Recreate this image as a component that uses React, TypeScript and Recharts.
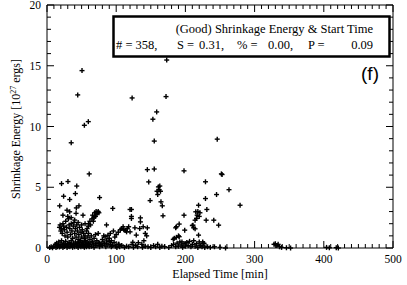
import React from 'react';
import { ScatterChart, Scatter, XAxis, YAxis, ReferenceArea } from 'recharts';

// chart size and plot margins (plot box: x 47..393, y 5..248)
const W = 407;
const H = 285;
const M = { top: 5, right: 14, bottom: 36, left: 46 };
const PLOT_TOP = 5;
const PLOT_RIGHT = 393;
const SERIF = '"Liberation Serif", "DejaVu Serif", serif';

const xTicks = Array.from({ length: 51 }, (_, i) => i * 10);
const yTicks = Array.from({ length: 21 }, (_, i) => i);

// events near the floor, left part
const floorLeft: [number, number][] = [
  [4, 0.05], [6, 0.1], [8, 0.02], [10, 0.15], [12, 0.3], [13, 0.05], [14, 0.4], [15, 0.1],
  [16, 0.2], [17, 0.5], [18, 0.08], [19, 0.3], [20, 0.15], [21, 0.6], [22, 0.25], [23, 0.05],
  [24, 0.4], [25, 0.12], [26, 0.3], [27, 0.55], [28, 0.2], [29, 0.05], [30, 0.35], [31, 0.15],
  [32, 0.45], [33, 0.1], [34, 0.3], [35, 0.6], [36, 0.2], [37, 0.05], [38, 0.4], [39, 0.25],
  [40, 0.1], [41, 0.5], [42, 0.3], [43, 0.15], [44, 0.35], [45, 0.05], [46, 0.45], [47, 0.2],
  [48, 0.6], [49, 0.1], [50, 0.3], [51, 0.4], [52, 0.15], [53, 0.25], [54, 0.05], [55, 0.5],
  [56, 0.3], [57, 0.1], [58, 0.2], [60, 0.4], [61, 0.1], [62, 0.3], [64, 0.15], [65, 0.5],
  [67, 0.25], [68, 0.05], [70, 0.35], [72, 0.2], [74, 0.4], [76, 0.1], [78, 0.3], [80, 0.2],
  [81, 0.5], [83, 0.35], [85, 0.1], [86, 0.4], [88, 0.25], [90, 0.55], [92, 0.3], [93, 0.1],
  [95, 0.2], [97, 0.45], [99, 0.15], [101, 0.05], [103, 0.3], [105, 0.1], [108, 0.2], [112, 0.05],
  [115, 0.15], [118, 0.1], [123, 0.3], [125, 0.05], [128, 0.2], [131, 0.1],
];

// events near the floor, middle and right parts
const floorRight: [number, number][] = [
  [138, 0.05], [142, 0.15], [146, 0.1], [150, 0.05], [154, 0.2], [157, 0.1], [160, 0.3],
  [163, 0.05], [166, 0.15], [170, 0.1], [176, 0.05], [180, 0.2], [183, 0.3], [186, 0.1],
  [188, 0.4], [190, 0.15], [192, 0.5], [194, 0.25], [196, 0.05], [198, 0.35], [200, 0.15],
  [202, 0.45], [204, 0.2], [206, 0.55], [208, 0.1], [210, 0.3], [212, 0.6], [214, 0.15],
  [216, 0.35], [218, 0.05], [220, 0.5], [222, 0.2], [224, 0.1], [226, 0.38], [228, 0.05],
  [232, 0.1], [236, 0.05], [242, 0.1], [250, 0.05], [258, 0.0],
  [328, 0.3], [330, 0.35], [332, 0.2], [334, 0.3], [336, 0.1], [339, 0.05], [346, 0.02],
  [352, 0.0], [404, 0.05], [408, 0.02], [418, 0.03], [421, 0.0],
];

// dense cluster 15..100 min
const clusterLeft: [number, number][] = [
  [18, 1.7], [19, 1.9], [20, 1.4], [21, 1.6], [22, 1.2], [23, 2.0], [24, 1.8], [25, 1.5],
  [26, 1.0], [27, 2.2], [28, 1.7], [29, 1.3], [30, 0.9], [31, 2.4], [32, 1.9], [33, 1.6],
  [34, 1.1], [35, 2.0], [36, 1.4], [37, 0.8], [38, 1.8], [39, 2.1], [40, 1.2], [41, 1.6],
  [42, 0.9], [43, 1.9], [44, 1.4], [45, 0.7], [46, 1.1], [47, 1.7], [48, 0.6], [49, 1.3],
  [50, 0.9], [51, 1.5], [52, 0.5], [53, 1.2], [54, 0.8], [55, 1.0], [56, 0.6], [57, 1.4],
  [58, 0.4], [59, 0.9], [60, 1.2], [62, 0.7], [64, 1.0], [66, 0.5], [68, 0.8], [70, 1.1],
  [72, 0.6], [74, 1.2], [76, 0.4],
  [30, 2.6], [35, 2.5], [23, 2.7], [40, 2.3], [45, 2.1], [50, 1.9], [55, 2.0], [60, 1.8],
  [52, 2.7], [42, 2.85], [28.9, 3.11], [32.8, 2.98], [42.4, 3.3], [46.2, 3.47], [18.3, 3.47],
  [58, 1.6], [60, 2.0], [62, 2.2], [63, 1.9], [65, 2.4], [66, 2.7], [67, 2.2], [68, 2.5],
  [69, 2.9], [70, 2.6], [71, 3.0], [72, 2.8], [73, 2.9], [74, 3.0], [75, 2.9],
  [80, 0.7], [82, 1.0], [84, 0.93], [86, 0.65], [88, 1.05], [90, 0.8], [91.5, 1.2], [93, 0.6],
  [96, 1.4], [98, 0.9], [100, 1.1], [86, 1.9],
];

// cluster 100..170 min
const clusterMid: [number, number][] = [
  [103, 1.3], [104, 0.3], [106, 1.5], [108, 1.6], [110, 1.75], [111, 1.5], [113, 1.45],
  [115, 1.33], [116, 1.6], [118, 1.75], [120, 1.33], [120, 3.17], [122, 2.43], [122, 2.6],
  [122, 3.17], [124, 0.47], [127, 1.66], [129, 1.06], [132, 0.44], [134, 1.6], [135, 2.15],
  [135, 2.48], [137, 0.3], [139, 1.75], [140, 0.6], [142, 1.2], [144, 1.0], [145, 1.66],
  [149, 3.9], [159, 4.67], [161, 5.03], [163, 5.1], [164, 4.67], [164.7, 3.8], [166.6, 3.47],
  [167.6, 2.65], [160, 4.4], [162, 4.8],
];

// cluster 180..280 min
const clusterRight: [number, number][] = [
  [182.5, 0.71], [184, 0.8], [186, 1.66], [187, 1.75], [187, 0.88], [190, 1.0], [191, 1.97],
  [191, 0.93], [195, 0.5], [198, 2.7], [199, 1.47], [210, 1.85], [211, 1.88], [212, 1.66],
  [214, 1.58], [214, 2.29], [215, 2.98], [216, 2.43], [217, 2.7], [218, 3.0], [219, 3.52],
  [219, 1.06], [220, 2.6], [221, 2.9], [225, 0.5], [227, 0.38], [229, 4.07], [230, 2.29],
  [231, 3.17], [241, 2.29], [245, 4.4], [248, 1.88], [263, 4.8], [279, 3.52],
];

// isolated high-energy events
const highEvents: [number, number][] = [
  [21, 5.3], [30.3, 5.47], [43, 5.1], [61, 6.1], [24, 4.26], [32.8, 3.99], [41, 4.48],
  [76, 4.15], [95, 3.26], [35, 8.66], [50.6, 14.6], [44.4, 12.6], [54, 10.1], [59.7, 10.4],
  [123, 12.35], [145, 6.45], [147, 5.44], [155, 6.5], [155, 8.8], [153, 10.6], [158.5, 11.2],
  [172, 12.46], [173, 15.47], [198, 6.35], [229, 5.45], [246, 8.96], [252, 6.1], [253, 6.05],
];

const events = [...floorLeft, ...floorRight, ...clusterLeft, ...clusterMid, ...clusterRight, ...highEvents]
  .map(([x, y]) => ({ x, y }));

const Plus = (props: any) => {
  const { cx, cy } = props;
  if (cx == null || cy == null) return null;
  return (
    <g>
      <line x1={cx - 2.5} x2={cx + 2.5} y1={cy} y2={cy} stroke="#000" strokeWidth={1.4} />
      <line x1={cx} x2={cx} y1={cy - 2.5} y2={cy + 2.5} stroke="#000" strokeWidth={1.4} />
    </g>
  );
};

// IDL style ticks: pointing inward, mirrored on the top edge
const XTick = (props: any) => {
  const { x, y, payload } = props;
  const v = payload.value;
  const major = v % 100 === 0;
  const len = major ? 7 : 4;
  return (
    <g>
      <line x1={x} x2={x} y1={y} y2={y - len} stroke="#000" />
      <line x1={x} x2={x} y1={PLOT_TOP} y2={PLOT_TOP + len} stroke="#000" />
      {major && (
        <text x={x} y={y + 15} textAnchor="middle" fontFamily={SERIF} fontSize={11.5} fill="#000">
          {v}
        </text>
      )}
    </g>
  );
};

const YTick = (props: any) => {
  const { x, y, payload } = props;
  const v = payload.value;
  const major = v % 5 === 0;
  const len = major ? 7 : 4;
  return (
    <g>
      <line x1={x} x2={x + len} y1={y} y2={y} stroke="#000" />
      <line x1={PLOT_RIGHT} x2={PLOT_RIGHT - len} y1={y} y2={y} stroke="#000" />
      {major && (
        <text x={x - 6} y={y + 4} textAnchor="end" fontFamily={SERIF} fontSize={11.5} fill="#000">
          {v}
        </text>
      )}
    </g>
  );
};

export default function App() {
  return (
    <div style={{ position: 'absolute', left: 0, top: 0, width: W, height: H, background: '#fff' }}>
      <ScatterChart width={W} height={H} margin={M}>
        <XAxis
          type="number"
          dataKey="x"
          domain={[0, 500]}
          ticks={xTicks}
          interval={0}
          height={1}
          tickSize={0}
          tickMargin={0}
          axisLine={false}
          tickLine={false}
          tick={<XTick />}
        />
        <YAxis
          type="number"
          dataKey="y"
          domain={[0, 20]}
          ticks={yTicks}
          interval={0}
          width={1}
          tickSize={0}
          tickMargin={0}
          axisLine={false}
          tickLine={false}
          tick={<YTick />}
        />
        <ReferenceArea x1={0} x2={500} y1={0} y2={20} fill="none" stroke="#000" strokeWidth={1} />
        <Scatter data={events} shape={<Plus />} isAnimationActive={false} />
      </ScatterChart>
      <svg
        width={W}
        height={H}
        style={{ position: 'absolute', left: 0, top: 0, pointerEvents: 'none' }}
      >
        <text
          transform="translate(20, 129) rotate(-90)"
          textAnchor="middle"
          fontFamily={SERIF}
          fontSize={12}
          fill="#000"
        >
          Shrinkage Energy [10<tspan dy={-4} fontSize={8}>27</tspan>
          <tspan dy={4}> ergs]</tspan>
        </text>
        <text x={220} y={278} textAnchor="middle" fontFamily={SERIF} fontSize={12} fill="#000">
          Elapsed Time [min]
        </text>
        <rect x={113.5} y={16.5} width={276} height={40} fill="#fff" stroke="#000" strokeWidth={2.5} />
        <text x={373} y={33} textAnchor="end" fontFamily={SERIF} fontSize={12.5} fill="#000">
          (Good) Shrinkage Energy &amp; Start Time
        </text>
        <g fontFamily={SERIF} fontSize={12.5} fill="#000">
          <text x={116} y={49}># = 358,</text>
          <text x={177} y={49}>S =</text>
          <text x={224} y={49} textAnchor="end">0.31,</text>
          <text x={237} y={49}>% =</text>
          <text x={293} y={49} textAnchor="end">0.00,</text>
          <text x={308} y={49}>P =</text>
          <text x={373} y={49} textAnchor="end">0.09</text>
        </g>
        <text x={370} y={80} textAnchor="middle" fontFamily='"Liberation Sans", Arial, sans-serif' fontSize={19} fill="#000">
          (f)
        </text>
      </svg>
    </div>
  );
}
